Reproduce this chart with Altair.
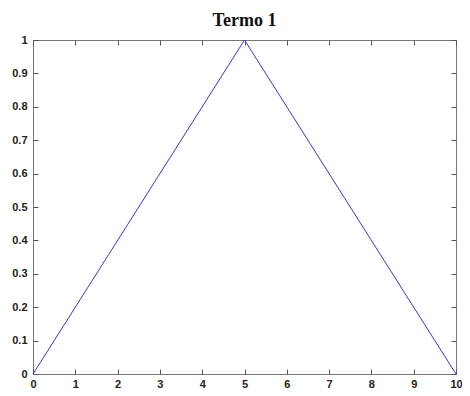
import altair as alt
import pandas as pd

# Data
x_vals = [0, 5, 10]
y_vals = [0, 1, 0]
x_ticks = list(range(11))
y_ticks = [0, 0.1, 0.2, 0.3, 0.4, 0.5, 0.6, 0.7, 0.8, 0.9, 1]

df = pd.DataFrame({"x": x_vals, "y": y_vals})

W, H = 423, 334
xs = alt.Scale(domain=[0, 10], nice=False, zero=False)
ys = alt.Scale(domain=[0, 1], nice=False)

lab = dict(labelFont="Liberation Sans", labelFontSize=11, labelFontWeight="bold",
           labelColor="#222222")
common = dict(offset=-5, tickSize=5, domain=False, grid=False,
              tickColor="#555555", tickWidth=1)

line = alt.Chart(df).mark_line(color="#3333ff", strokeWidth=1).encode(
    x=alt.X("x:Q", scale=xs,
            axis=alt.Axis(orient="bottom", values=x_ticks, title=None,
                          labelPadding=4, labelFlush=False, **lab, **common)),
    y=alt.Y("y:Q", scale=ys,
            axis=alt.Axis(orient="left", values=y_ticks, title=None, format="~g",
                          labelPadding=6, labelOverlap=False, **lab, **common)),
)

frame = alt.Chart(df).mark_line(opacity=0).encode(
    x=alt.X("x:Q", scale=xs,
            axis=alt.Axis(orient="top", values=x_ticks, title=None, labels=False, **common)),
    y=alt.Y("y:Q", scale=ys,
            axis=alt.Axis(orient="right", values=y_ticks, title=None, labels=False, **common)),
)

chart = alt.layer(line, frame).resolve_axis(
    x="independent", y="independent"
).properties(
    width=W,
    height=H,
    title=alt.TitleParams("Termo 1", font="Liberation Serif", fontSize=18,
                          fontWeight="bold", color="#111111", anchor="middle",
                          offset=4),
    autosize=alt.AutoSizeParams(type="none"),
    padding={"left": 25, "top": 32, "right": 6, "bottom": 14},
).configure_view(stroke="#777777", strokeWidth=1)

chart.save("out.html", embed_options={"renderer": "svg", "actions": False})
